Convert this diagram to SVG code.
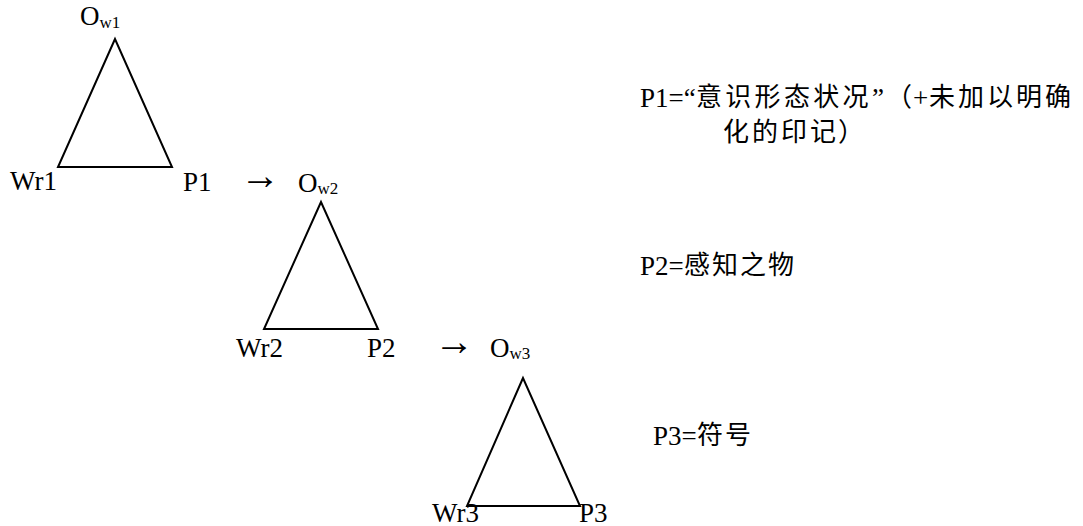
<svg xmlns="http://www.w3.org/2000/svg" width="1083" height="526" viewBox="0 0 1083 526">
<style>
.t{font-family:"Liberation Serif","Noto Sans CJK SC",serif;font-size:27px;fill:#000}
.s{font-size:17px}
.c{font-family:"Noto Sans CJK SC",sans-serif;font-size:26px}
.arr{font-size:40px}
.tri{fill:none;stroke:#000;stroke-width:2;stroke-linejoin:miter}
</style>
<rect width="1083" height="526" fill="#fff"/>
<g id="triangle1">
<polygon class="tri" points="115,39 58,167 172,167"/>
<text class="t" x="80" y="25">O<tspan class="s" dy="3">w1</tspan></text>
<text class="t" x="10" y="190">Wr1</text>
<text class="t" x="183" y="191">P1</text>
</g>
<g id="triangle2">
<polygon class="tri" points="321,202 264,329 378,329"/>
<text class="t" x="298" y="192">O<tspan class="s" dy="2">w2</tspan></text>
<text class="t" x="236" y="357">Wr2</text>
<text class="t" x="367" y="357">P2</text>
</g>
<g id="triangle3">
<polygon class="tri" points="523,378 467,506 580,506"/>
<text class="t" x="490" y="357">O<tspan class="s" dy="2">w3</tspan></text>
<text class="t" x="432" y="522">Wr3</text>
<text class="t" x="579" y="522">P3</text>
</g>
<g id="connectors">
<text class="t arr" x="240" y="189">→</text>
<text class="t arr" x="434" y="355">→</text>
</g>
<g id="legend">
<text class="t" y="107"><tspan x="640">P1=“</tspan><tspan class="c" x="696 725.3 754.6 783.9 813.2 842.5" y="106">意识形态状况</tspan><tspan x="872" y="107">”</tspan><tspan class="c" x="886" y="106">（</tspan><tspan x="913" y="107">+</tspan><tspan class="c" x="929 958 987 1016 1045" y="106">未加以明确</tspan></text>
<text class="t c" x="723 752 781 810 838" y="141">化的印记）</text>
<text class="t" y="275"><tspan x="640">P2=</tspan><tspan class="c" x="684 712 740 768" y="274">感知之物</tspan></text>
<text class="t" y="445"><tspan x="653">P3=</tspan><tspan class="c" x="697 725" y="444">符号</tspan></text>
</g>
</svg>
